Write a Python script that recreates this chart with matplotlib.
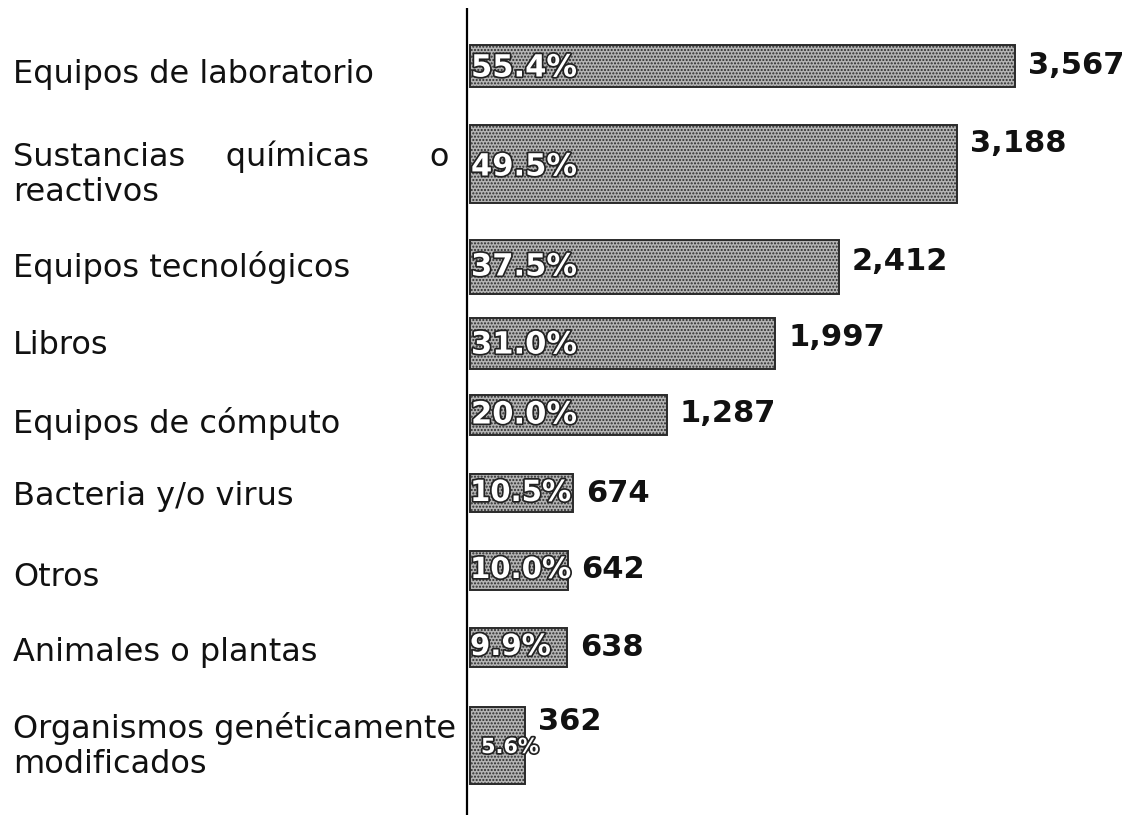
import matplotlib
matplotlib.use("Agg")
import matplotlib.pyplot as plt
import matplotlib.patheffects as pe

plt.rcParams['font.family'] = ['DejaVu Sans']
plt.rcParams['hatch.color'] = '#4a4a4a'
plt.rcParams['hatch.linewidth'] = 1.0

categories = [
    "Equipos de laboratorio",
    "Sustancias    químicas      o\nreactivos",
    "Equipos tecnológicos",
    "Libros",
    "Equipos de cómputo",
    "Bacteria y/o virus",
    "Otros",
    "Animales o plantas",
    "Organismos genéticamente\nmodificados",
]
values = [3567, 3188, 2412, 1997, 1287, 674, 642, 638, 362]
percents = ["55.4%", "49.5%", "37.5%", "31.0%", "20.0%", "10.5%", "10.0%", "9.9%", "5.6%"]

# layout (pixel-based vertical positions)
y_centers = [66, 164, 267, 343, 415, 493, 570, 647, 745]
heights = [42, 78, 54, 51, 40, 38, 39, 39, 77]
label_y = [75, 174, 267, 345, 423, 497, 577, 653, 746]
value_y = [65, 143, 262, 337, 413, 493, 570, 648, 722]
pct_y = [68, 167, 267, 345, 415, 493, 570, 647, 747]
pct_size = [22, 22, 22, 22, 22, 21, 21, 21, 15]
pct_x = [4, 4, 4, 4, 4, 3, 3, 3, 14]

W, H = 1134, 815
fig = plt.figure(figsize=(W / 100, H / 100), dpi=100)
ax = fig.add_axes([0, 0, 1, 1])
x0 = 467
scale = 545 / values[0]
ax.set_xlim(-x0 / scale, (W - x0) / scale)
ax.set_ylim(H, 0)
ax.axis('off')

ax.barh(y_centers, values, height=heights, left=3 / scale, color='#b4b4b4',
        edgecolor='#2a2a2a', linewidth=1.4, hatch='.....')

ax.plot([0, 0], [8, H], color='black', lw=1.6, solid_capstyle='butt')

for i, cat in enumerate(categories):
    ax.text(-(x0 - 13) / scale, label_y[i], cat, fontsize=23, ha='left',
            va='center', color='#111111', linespacing=1.15)
    ax.text(values[i] + 16 / scale, value_y[i], f"{values[i]:,}", fontsize=22,
            fontweight='bold', ha='left', va='center', color='#111111')
    ax.text(pct_x[i] / scale, pct_y[i], percents[i], fontsize=pct_size[i],
            fontweight='bold', ha='left', va='center', color='white',
            path_effects=[pe.withStroke(linewidth=2.5, foreground='#222222')])

fig.savefig("out.png", dpi=100)
